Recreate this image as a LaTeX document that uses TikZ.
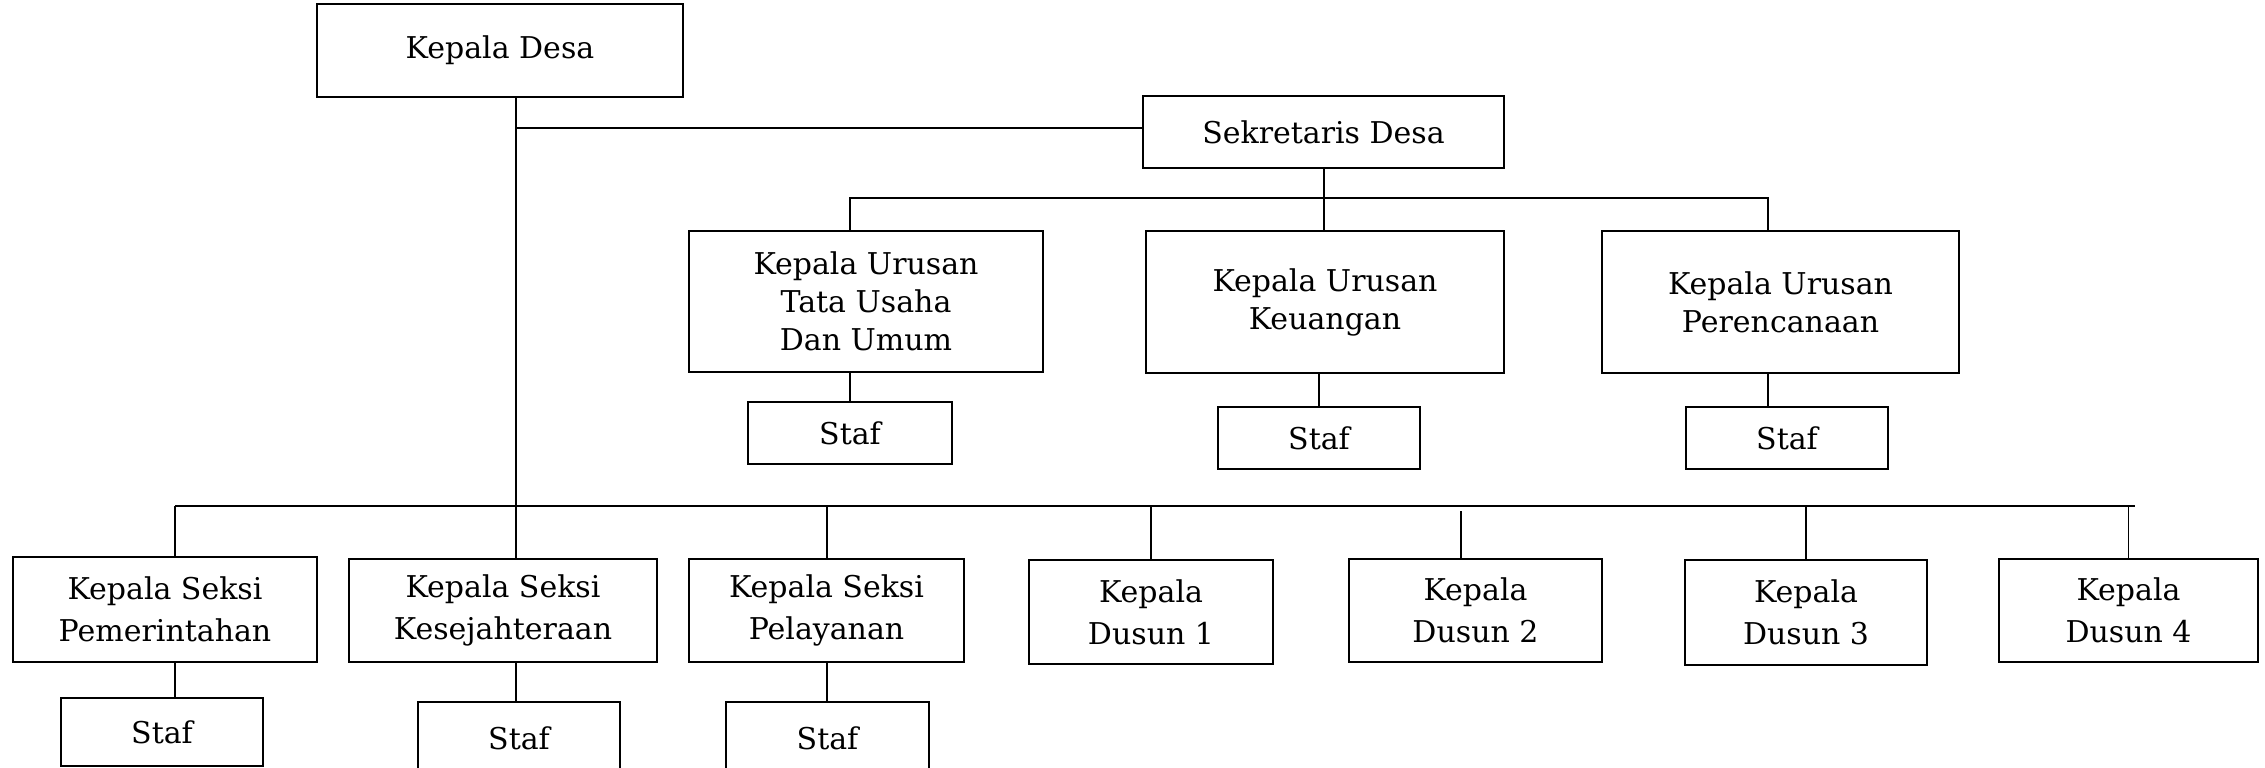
\documentclass[tikz,border=0pt]{standalone}
\usepackage{fontspec}
\setmainfont{DejaVu Serif}
\begin{document}
\begin{tikzpicture}[x=0.5pt,y=-0.5pt,
  box/.style={draw, line width=1pt, align=center, inner sep=0pt,
    font=\fontsize{15}{19}\selectfont},
  lowbox/.style={box, font=\fontsize{15}{21}\selectfont},
  sz/.style 2 args={minimum width=#1*0.5pt, minimum height=#2*0.5pt},
  conn/.style={line width=1pt},
  thin/.style={line width=0.75pt}]
\useasboundingbox (0,0) rectangle (2265,767);
\clip (0,0) rectangle (2265,767);
% top level
\node[box, sz={366}{93}] (kd) at (500,50.5) {Kepala Desa};
\node[box, sz={361}{72}] (sek) at (1323.5,132) {Sekretaris Desa};
% urusan
\node[box, sz={354}{141}] (tu) at (866,301.5) {Kepala Urusan\\Tata Usaha\\Dan Umum};
\node[box, sz={358}{142}] (ku) at (1325,302) {Kepala Urusan\\Keuangan};
\node[box, sz={357}{142}] (pr) at (1780.5,302) {Kepala Urusan\\Perencanaan};
\node[box, sz={204}{62}] (stu) at (850,433) {Staf};
\node[box, sz={202}{62}] (sku) at (1319,438) {Staf};
\node[box, sz={202}{62}] (spr) at (1787,438) {Staf};
% seksi and dusun
\node[lowbox, sz={304}{105}] (pem) at (165,609.5) {Kepala Seksi\\Pemerintahan};
\node[lowbox, sz={308}{103}] (kes) at (503,610.5) {Kepala Seksi\\Kesejahteraan};
\node[lowbox, sz={275}{103}] (pel) at (826.5,610.5) {Kepala Seksi\\Pelayanan};
\node[lowbox, sz={244}{104}] (d1) at (1151,612) {Kepala\\Dusun 1};
\node[lowbox, sz={253}{103}] (d2) at (1475.5,610.5) {Kepala\\Dusun 2};
\node[lowbox, sz={242}{105}] (d3) at (1806,612.5) {Kepala\\Dusun 3};
\node[lowbox, sz={259}{103}] (d4) at (2128.5,610.5) {Kepala\\Dusun 4};
\node[box, sz={202}{68}] (spem) at (162,732) {Staf};
\node[box, sz={202}{72}] (skes) at (519,738) {Staf};
\node[box, sz={203}{72}] (spel) at (827.5,738) {Staf};
% helper coordinates
\coordinate (mv) at (516,0);
\coordinate (sk) at (0,128);
\coordinate (sb) at (0,198);
\coordinate (xpr) at (1768,0);
\coordinate (bb) at (0,506);
\coordinate (xpem) at (175,0);
\coordinate (d2top) at (1461,511);
\coordinate (bend) at (2135,506);
% connectors
\draw[conn] (kd.south -| mv) -- (kes.north -| mv);
\draw[conn] (mv |- sk) -- (sek.west |- sk);
\draw[conn] (sek.south) -- (ku.north -| sek.south);
\draw[conn] (tu.north -| stu) -- (stu |- sb) -- (xpr |- sb) -- (pr.north -| xpr);
\draw[conn] (tu.south -| stu) -- (stu.north);
\draw[conn] (ku.south -| sku) -- (sku.north);
\draw[conn] (pr.south -| xpr) -- (xpr |- spr.north);
\draw[conn] (xpem |- bb) -- (bend);
\draw[conn] (xpem |- bb) -- (xpem |- pem.north);
\draw[conn] (pem.south -| xpem) -- (xpem |- spem.north);
\draw[conn] (kes.south -| mv) -- (mv |- skes.north);
\draw[conn] (pel |- bb) -- (pel.north);
\draw[conn] (pel.south) -- (pel.south |- spel.north);
\draw[thin] (d1 |- bb) -- (d1.north);
\draw[thin] (d2top) -- (d2.north -| d2top);
\draw[thin] (d3 |- bb) -- (d3.north);
\draw[thin] (d4 |- bb) -- (d4.north);
\end{tikzpicture}
\end{document}
